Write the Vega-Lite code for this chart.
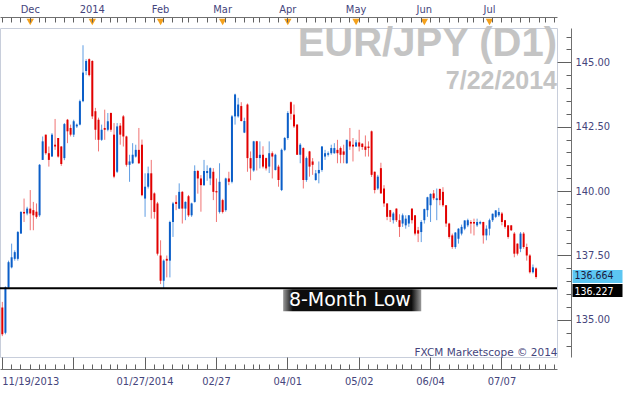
{
"$schema":"https://vega.github.io/schema/vega-lite/v6.json",
"width":557,"height":329,
"autosize":{"type":"none"},
"padding":{"left":0,"top":28,"right":67,"bottom":36},
"background":"#ffffff",
"config":{
 "view":{"stroke":"#c8cedb","strokeWidth":1},
 "axis":{"labelFont":"DejaVu Sans Condensed, DejaVu Sans","labelFontSize":11,"labelColor":"#45457c","tickColor":"#606060","domainColor":"#707070","grid":false,"labelOverlap":false,"labelBound":false}
},
"title":{"text":"EUR/JPY (D1)","subtitle":"7/22/2014","anchor":"end","frame":"group","orient":"top","offset":-91,"font":"Liberation Sans","fontSize":40,"fontWeight":"bold","color":"#c4c4c4","subtitleFont":"Liberation Sans","subtitleFontSize":25,"subtitleFontWeight":"bold","subtitleColor":"#c4c4c4","subtitlePadding":5},
"datasets":{
"candles":[
{"d":"2013-11-19","o":135.48,"h":135.7,"l":134.37,"c":134.44},
{"d":"2013-11-20","o":134.5,"h":136.3,"l":134.44,"c":136.26},
{"d":"2013-11-21","o":136.26,"h":137.3,"l":136.2,"c":137.24},
{"d":"2013-11-22","o":137.04,"h":137.96,"l":137.0,"c":137.43},
{"d":"2013-11-25","o":137.37,"h":137.7,"l":137.3,"c":137.63},
{"d":"2013-11-26","o":137.37,"h":138.45,"l":137.3,"c":138.41},
{"d":"2013-11-27","o":138.35,"h":139.22,"l":138.35,"c":139.19},
{"d":"2013-11-28","o":139.19,"h":139.71,"l":138.8,"c":139.13},
{"d":"2013-11-29","o":139.13,"h":139.39,"l":139.06,"c":139.32},
{"d":"2013-12-02","o":139.32,"h":140.04,"l":138.48,"c":139.13},
{"d":"2013-12-03","o":139.26,"h":139.58,"l":138.48,"c":139.06},
{"d":"2013-12-04","o":139.2,"h":139.52,"l":138.93,"c":139.0},
{"d":"2013-12-05","o":139.06,"h":141.05,"l":139.0,"c":141.02},
{"d":"2013-12-06","o":141.21,"h":142.12,"l":141.21,"c":141.93},
{"d":"2013-12-09","o":142.19,"h":142.19,"l":141.41,"c":141.47},
{"d":"2013-12-10","o":141.47,"h":141.73,"l":140.95,"c":141.21},
{"d":"2013-12-11","o":141.34,"h":142.25,"l":141.34,"c":142.19},
{"d":"2013-12-12","o":141.8,"h":142.8,"l":141.6,"c":141.73},
{"d":"2013-12-13","o":142.06,"h":142.06,"l":141.3,"c":141.34},
{"d":"2013-12-16","o":141.73,"h":141.75,"l":140.98,"c":141.05},
{"d":"2013-12-17","o":141.28,"h":142.64,"l":141.2,"c":142.6},
{"d":"2013-12-18","o":142.77,"h":142.8,"l":141.86,"c":142.32},
{"d":"2013-12-19","o":142.45,"h":142.58,"l":142.12,"c":142.19},
{"d":"2013-12-20","o":142.19,"h":142.77,"l":142.1,"c":142.71},
{"d":"2013-12-23","o":142.51,"h":142.62,"l":142.45,"c":142.58},
{"d":"2013-12-26","o":142.58,"h":143.55,"l":142.55,"c":143.49},
{"d":"2013-12-27","o":143.49,"h":145.66,"l":143.45,"c":144.6},
{"d":"2013-12-30","o":144.66,"h":145.12,"l":144.5,"c":145.05},
{"d":"2013-12-31","o":145.12,"h":145.15,"l":144.45,"c":144.5},
{"d":"2014-01-02","o":145.05,"h":145.08,"l":142.8,"c":142.9},
{"d":"2014-01-03","o":143.1,"h":143.23,"l":141.99,"c":142.38},
{"d":"2014-01-06","o":142.77,"h":142.85,"l":141.54,"c":141.99},
{"d":"2014-01-07","o":141.99,"h":142.58,"l":141.95,"c":142.38},
{"d":"2014-01-08","o":142.45,"h":143.16,"l":141.99,"c":142.38},
{"d":"2014-01-09","o":142.38,"h":143.03,"l":142.32,"c":142.71},
{"d":"2014-01-10","o":143.03,"h":143.05,"l":142.3,"c":142.38},
{"d":"2014-01-13","o":142.19,"h":142.64,"l":140.5,"c":140.56},
{"d":"2014-01-14","o":140.75,"h":142.64,"l":140.7,"c":142.51},
{"d":"2014-01-15","o":142.54,"h":142.64,"l":141.8,"c":142.19},
{"d":"2014-01-16","o":142.9,"h":142.95,"l":141.73,"c":142.12},
{"d":"2014-01-17","o":142.12,"h":142.15,"l":140.95,"c":141.02},
{"d":"2014-01-20","o":141.02,"h":141.41,"l":140.36,"c":141.15},
{"d":"2014-01-21","o":141.08,"h":141.86,"l":141.05,"c":141.41},
{"d":"2014-01-22","o":141.34,"h":141.8,"l":141.3,"c":141.6},
{"d":"2014-01-23","o":141.6,"h":142.45,"l":141.05,"c":141.08},
{"d":"2014-01-24","o":141.8,"h":142.0,"l":139.8,"c":139.84},
{"d":"2014-01-27","o":139.71,"h":140.69,"l":139.0,"c":140.17},
{"d":"2014-01-28","o":140.17,"h":140.95,"l":140.1,"c":140.69},
{"d":"2014-01-29","o":140.69,"h":141.21,"l":138.93,"c":139.65},
{"d":"2014-01-30","o":139.91,"h":139.95,"l":138.93,"c":139.19},
{"d":"2014-01-31","o":139.52,"h":139.58,"l":137.5,"c":137.57},
{"d":"2014-02-03","o":137.5,"h":138.09,"l":136.39,"c":136.52},
{"d":"2014-02-04","o":136.52,"h":137.35,"l":136.227,"c":137.3},
{"d":"2014-02-05","o":137.37,"h":137.5,"l":136.65,"c":137.3},
{"d":"2014-02-06","o":137.3,"h":138.85,"l":136.65,"c":138.8},
{"d":"2014-02-07","o":138.8,"h":139.58,"l":138.22,"c":139.52},
{"d":"2014-02-10","o":139.58,"h":139.84,"l":139.26,"c":139.5},
{"d":"2014-02-11","o":139.32,"h":140.3,"l":139.3,"c":139.97},
{"d":"2014-02-12","o":139.97,"h":140.0,"l":138.74,"c":139.32},
{"d":"2014-02-13","o":139.32,"h":139.6,"l":138.87,"c":139.58},
{"d":"2014-02-14","o":139.8,"h":139.85,"l":139.0,"c":139.06},
{"d":"2014-02-17","o":139.06,"h":139.55,"l":139.0,"c":139.52},
{"d":"2014-02-18","o":139.58,"h":141.0,"l":139.55,"c":140.78},
{"d":"2014-02-19","o":140.78,"h":140.82,"l":139.9,"c":140.49},
{"d":"2014-02-20","o":140.49,"h":140.62,"l":139.2,"c":140.23},
{"d":"2014-02-21","o":140.23,"h":141.21,"l":140.2,"c":140.78},
{"d":"2014-02-24","o":140.7,"h":141.0,"l":140.4,"c":140.78},
{"d":"2014-02-25","o":140.49,"h":140.92,"l":140.23,"c":140.89},
{"d":"2014-02-26","o":140.75,"h":140.89,"l":139.65,"c":139.97},
{"d":"2014-02-27","o":140.0,"h":140.49,"l":138.8,"c":139.95},
{"d":"2014-02-28","o":139.19,"h":141.08,"l":139.13,"c":140.36},
{"d":"2014-03-03","o":139.65,"h":139.7,"l":139.13,"c":139.19},
{"d":"2014-03-04","o":139.26,"h":140.52,"l":139.2,"c":140.49},
{"d":"2014-03-05","o":140.49,"h":140.75,"l":140.23,"c":140.36},
{"d":"2014-03-06","o":140.36,"h":142.95,"l":140.3,"c":142.9},
{"d":"2014-03-07","o":142.9,"h":143.78,"l":142.58,"c":143.75},
{"d":"2014-03-10","o":142.9,"h":143.62,"l":142.85,"c":143.36},
{"d":"2014-03-11","o":143.3,"h":143.45,"l":142.7,"c":142.72},
{"d":"2014-03-12","o":142.27,"h":142.85,"l":142.25,"c":142.72},
{"d":"2014-03-13","o":143.36,"h":143.4,"l":140.75,"c":141.28},
{"d":"2014-03-14","o":141.28,"h":141.54,"l":140.42,"c":140.88},
{"d":"2014-03-17","o":140.8,"h":141.95,"l":140.75,"c":141.93},
{"d":"2014-03-18","o":141.93,"h":141.95,"l":140.8,"c":141.28},
{"d":"2014-03-19","o":141.28,"h":141.93,"l":140.88,"c":141.41},
{"d":"2014-03-20","o":141.41,"h":141.74,"l":140.88,"c":140.95},
{"d":"2014-03-21","o":141.28,"h":141.3,"l":140.8,"c":140.88},
{"d":"2014-03-24","o":140.95,"h":141.93,"l":140.7,"c":141.47},
{"d":"2014-03-25","o":141.47,"h":141.54,"l":140.49,"c":141.34},
{"d":"2014-03-26","o":140.82,"h":141.45,"l":140.8,"c":141.41},
{"d":"2014-03-27","o":140.95,"h":141.02,"l":140.17,"c":140.43},
{"d":"2014-03-28","o":140.04,"h":141.65,"l":140.0,"c":141.6},
{"d":"2014-03-31","o":141.6,"h":142.1,"l":141.55,"c":142.06},
{"d":"2014-04-01","o":142.06,"h":143.1,"l":141.99,"c":143.03},
{"d":"2014-04-02","o":143.45,"h":143.48,"l":142.77,"c":143.0},
{"d":"2014-04-03","o":142.97,"h":143.36,"l":142.45,"c":142.51},
{"d":"2014-04-04","o":142.58,"h":142.6,"l":141.4,"c":141.41},
{"d":"2014-04-07","o":141.41,"h":141.86,"l":141.08,"c":141.8},
{"d":"2014-04-08","o":141.67,"h":141.7,"l":140.1,"c":140.43},
{"d":"2014-04-09","o":140.43,"h":141.34,"l":140.36,"c":141.28},
{"d":"2014-04-10","o":141.54,"h":141.56,"l":140.56,"c":140.95},
{"d":"2014-04-11","o":141.15,"h":141.28,"l":140.63,"c":141.02},
{"d":"2014-04-14","o":140.43,"h":140.82,"l":140.4,"c":140.69},
{"d":"2014-04-15","o":140.69,"h":141.15,"l":140.3,"c":140.82},
{"d":"2014-04-16","o":140.82,"h":141.75,"l":140.75,"c":141.73},
{"d":"2014-04-17","o":141.34,"h":141.6,"l":141.21,"c":141.47},
{"d":"2014-04-18","o":141.41,"h":141.54,"l":141.34,"c":141.47},
{"d":"2014-04-21","o":141.47,"h":141.8,"l":141.41,"c":141.67},
{"d":"2014-04-22","o":141.47,"h":141.86,"l":141.45,"c":141.67},
{"d":"2014-04-23","o":141.6,"h":141.99,"l":141.08,"c":141.47},
{"d":"2014-04-24","o":141.67,"h":141.73,"l":141.08,"c":141.41},
{"d":"2014-04-25","o":141.54,"h":141.8,"l":141.08,"c":141.41},
{"d":"2014-04-28","o":141.08,"h":141.99,"l":141.06,"c":141.99},
{"d":"2014-04-29","o":141.93,"h":142.45,"l":141.6,"c":141.73},
{"d":"2014-04-30","o":141.8,"h":142.06,"l":141.15,"c":141.73},
{"d":"2014-05-01","o":141.73,"h":141.99,"l":141.72,"c":141.89},
{"d":"2014-05-02","o":141.89,"h":142.38,"l":141.54,"c":141.73},
{"d":"2014-05-05","o":141.84,"h":141.86,"l":141.6,"c":141.71},
{"d":"2014-05-06","o":141.73,"h":142.16,"l":141.34,"c":141.6},
{"d":"2014-05-07","o":141.73,"h":141.93,"l":141.34,"c":141.67},
{"d":"2014-05-08","o":142.32,"h":142.35,"l":140.55,"c":140.63},
{"d":"2014-05-09","o":140.75,"h":140.76,"l":139.91,"c":140.04},
{"d":"2014-05-12","o":140.1,"h":140.63,"l":140.04,"c":140.56},
{"d":"2014-05-13","o":140.89,"h":141.1,"l":139.9,"c":139.91},
{"d":"2014-05-14","o":140.1,"h":140.23,"l":139.39,"c":139.52},
{"d":"2014-05-15","o":139.52,"h":139.53,"l":138.87,"c":139.0},
{"d":"2014-05-16","o":139.26,"h":139.27,"l":138.8,"c":139.0},
{"d":"2014-05-19","o":138.87,"h":139.19,"l":138.74,"c":139.13},
{"d":"2014-05-20","o":139.32,"h":139.33,"l":138.8,"c":138.87},
{"d":"2014-05-21","o":138.87,"h":139.1,"l":138.22,"c":138.61},
{"d":"2014-05-22","o":138.74,"h":139.13,"l":138.61,"c":139.06},
{"d":"2014-05-23","o":138.67,"h":139.06,"l":138.54,"c":138.93},
{"d":"2014-05-26","o":138.74,"h":139.07,"l":138.61,"c":139.06},
{"d":"2014-05-27","o":139.32,"h":139.33,"l":138.74,"c":138.87},
{"d":"2014-05-28","o":139.06,"h":139.07,"l":138.28,"c":138.35},
{"d":"2014-05-29","o":138.48,"h":138.61,"l":138.02,"c":138.35},
{"d":"2014-05-30","o":138.41,"h":138.87,"l":138.02,"c":138.8},
{"d":"2014-06-02","o":138.87,"h":139.32,"l":138.74,"c":139.3},
{"d":"2014-06-03","o":139.26,"h":139.78,"l":139.0,"c":139.76},
{"d":"2014-06-04","o":139.45,"h":139.91,"l":138.8,"c":139.89},
{"d":"2014-06-05","o":139.91,"h":140.04,"l":139.65,"c":139.72},
{"d":"2014-06-06","o":139.65,"h":140.1,"l":138.87,"c":139.72},
{"d":"2014-06-09","o":140.08,"h":140.1,"l":139.45,"c":139.65},
{"d":"2014-06-10","o":139.97,"h":140.15,"l":139.39,"c":139.45},
{"d":"2014-06-11","o":139.45,"h":139.46,"l":138.61,"c":138.74},
{"d":"2014-06-12","o":138.74,"h":138.77,"l":138.15,"c":138.22},
{"d":"2014-06-13","o":138.28,"h":138.35,"l":137.76,"c":137.83},
{"d":"2014-06-16","o":137.83,"h":138.41,"l":137.76,"c":138.39},
{"d":"2014-06-17","o":138.15,"h":138.56,"l":137.96,"c":138.54},
{"d":"2014-06-18","o":138.35,"h":138.7,"l":138.28,"c":138.61},
{"d":"2014-06-19","o":138.54,"h":138.87,"l":138.48,"c":138.86},
{"d":"2014-06-20","o":138.67,"h":138.93,"l":138.6,"c":138.87},
{"d":"2014-06-23","o":138.8,"h":138.87,"l":138.35,"c":138.74},
{"d":"2014-06-24","o":138.8,"h":138.93,"l":138.28,"c":138.74},
{"d":"2014-06-25","o":138.67,"h":138.93,"l":138.61,"c":138.8},
{"d":"2014-06-26","o":138.74,"h":138.85,"l":138.7,"c":138.8},
{"d":"2014-06-27","o":138.8,"h":138.81,"l":137.96,"c":138.28},
{"d":"2014-06-30","o":138.28,"h":138.67,"l":138.09,"c":138.54},
{"d":"2014-07-01","o":138.54,"h":138.93,"l":138.28,"c":138.87},
{"d":"2014-07-02","o":138.87,"h":139.13,"l":138.8,"c":139.12},
{"d":"2014-07-03","o":139.0,"h":139.26,"l":138.95,"c":139.25},
{"d":"2014-07-04","o":139.06,"h":139.35,"l":139.0,"c":139.19},
{"d":"2014-07-07","o":139.13,"h":139.19,"l":138.67,"c":138.8},
{"d":"2014-07-08","o":138.87,"h":138.88,"l":138.54,"c":138.61},
{"d":"2014-07-09","o":138.67,"h":138.68,"l":138.15,"c":138.22},
{"d":"2014-07-10","o":138.67,"h":138.68,"l":138.45,"c":138.48},
{"d":"2014-07-11","o":138.35,"h":138.41,"l":137.43,"c":137.57},
{"d":"2014-07-14","o":137.96,"h":137.97,"l":137.5,"c":137.57},
{"d":"2014-07-15","o":137.76,"h":138.41,"l":137.63,"c":138.35},
{"d":"2014-07-16","o":138.35,"h":138.41,"l":137.76,"c":137.83},
{"d":"2014-07-17","o":137.83,"h":137.96,"l":137.3,"c":137.5},
{"d":"2014-07-18","o":137.5,"h":137.55,"l":136.8,"c":136.85},
{"d":"2014-07-21","o":136.85,"h":137.15,"l":136.8,"c":137.04},
{"d":"2014-07-22","o":137.0,"h":137.04,"l":136.6,"c":136.664}
],
"low":[{"price":136.227,"label":"8-Month Low"}],
"months":[{"d":"2013-12-02"},{"d":"2014-01-02"},{"d":"2014-02-03"},{"d":"2014-03-03"},{"d":"2014-04-01"},{"d":"2014-05-01"},{"d":"2014-06-02"},{"d":"2014-07-01"}]
},
"layer":[
{"data":{"name":"candles"},
 "mark":{"type":"rule","strokeWidth":1},
 "encoding":{
  "x":{"field":"d","type":"ordinal","scale":{"type":"band","domain":{"unionWith":["2014-07-23","2014-07-24","2014-07-25","2014-07-28","2014-07-29","2014-07-30"]},"paddingInner":0,"paddingOuter":0.25},
   "axis":{"orient":"bottom","title":null,"values":["2013-11-19","2013-12-20","2014-01-27","2014-02-27","2014-04-01","2014-05-02","2014-06-04","2014-07-07"],"offset":0,"tickSize":12,"domain":false,"labelPadding":6,"labelAngle":0,
    "labelExpr":"datum.value=='2013-12-20' ? '' : substring(datum.value,5,7)+'/'+substring(datum.value,8,10)+(datum.value<'2014-02-01' ? '/'+substring(datum.value,0,4) : '')",
    "labelAlign":{"condition":{"test":"datum.value=='2013-11-19'","value":"left"},"value":"center"}}},
  "y":{"field":"l","type":"quantitative","scale":{"domain":[133.56,146.33],"nice":false,"zero":false},
   "axis":{"orient":"right","title":null,"values":[135,137.5,140,142.5,145],"format":".2f","offset":0,"tickSize":14,"domain":false,"labelPadding":4}},
  "y2":{"field":"h"},
  "color":{"condition":{"test":"datum.c >= datum.o","value":"#5f9de3"},"value":"#f07373"}
 }},
{"data":{"name":"candles"},
 "mark":{"type":"bar","size":2},
 "encoding":{
  "x":{"field":"d","type":"ordinal",
   "axis":{"orient":"bottom","title":"FXCM Marketscope © 2014","values":["2013-11-19","2013-11-22","2013-11-27","2013-12-02","2013-12-05","2013-12-09","2013-12-12","2013-12-17","2013-12-20","2013-12-27","2014-01-02","2014-01-07","2014-01-10","2014-01-14","2014-01-17","2014-01-22","2014-01-27","2014-01-30","2014-02-04","2014-02-07","2014-02-12","2014-02-14","2014-02-19","2014-02-24","2014-02-27","2014-03-04","2014-03-07","2014-03-12","2014-03-17","2014-03-19","2014-03-24","2014-03-27","2014-04-01","2014-04-04","2014-04-09","2014-04-14","2014-04-17","2014-04-21","2014-04-24","2014-04-29","2014-05-02","2014-05-07","2014-05-12","2014-05-15","2014-05-20","2014-05-22","2014-05-27","2014-05-30","2014-06-04","2014-06-09","2014-06-12","2014-06-17","2014-06-20","2014-06-24","2014-06-27","2014-07-02","2014-07-07","2014-07-10","2014-07-15","2014-07-18","2014-07-23","2014-07-25","2014-07-30"],
    "offset":12,"tickSize":-5,"labels":false,"domain":true,"titleAnchor":"end","titleAlign":"right","titleBaseline":"alphabetic","titleY":-14,"titleFont":"DejaVu Sans","titleFontSize":10.5,"titleFontWeight":"normal","titleColor":"#45457c"}},
  "y":{"field":"o","type":"quantitative",
   "axis":{"orient":"right","title":null,"values":[134,134.5,135,135.5,136,136.5,137,137.5,138,138.5,139,139.5,140,140.5,141,141.5,142,142.5,143,143.5,144,144.5,145,145.5,146],"offset":14,"tickSize":-5,"labels":false,"domain":true}},
  "y2":{"field":"c"},
  "color":{"condition":{"test":"datum.c >= datum.o","value":"#0b5ec8"},"value":"#e10000"}
 }},
{"data":{"name":"low"},
 "mark":{"type":"rule","strokeWidth":2,"color":"#000000"},
 "encoding":{
  "y":{"field":"price","type":"quantitative",
   "axis":{"orient":"right","title":null,"values":[136.664],"format":".3f","offset":15,"tickSize":50,"tickWidth":13,"tickOffset":-1,"labelOffset":-1,"tickColor":"#5cc6f2","domain":false,"labelColor":"#1a1a40","labelFontSize":10.5,"labelPadding":-48,"labelAlign":"left","labelBaseline":"middle"}}
 }},
{"data":{"name":"low"},
 "mark":{"type":"rect","fill":{"gradient":"linear","x1":0,"y1":0,"x2":1,"y2":0,"stops":[{"offset":0,"color":"#9a9a9a"},{"offset":0.07,"color":"#0d0d0d"},{"offset":0.93,"color":"#0d0d0d"},{"offset":1,"color":"#9a9a9a"}]}},
 "encoding":{
  "x":{"datum":"2014-03-31","type":"ordinal","bandPosition":0,
   "axis":{"orient":"top","title":null,"values":["2013-11-19","2013-11-22","2013-11-27","2013-12-02","2013-12-05","2013-12-09","2013-12-12","2013-12-17","2013-12-20","2013-12-27","2014-01-02","2014-01-07","2014-01-10","2014-01-14","2014-01-17","2014-01-22","2014-01-27","2014-01-30","2014-02-04","2014-02-07","2014-02-12","2014-02-14","2014-02-19","2014-02-24","2014-02-27","2014-03-04","2014-03-07","2014-03-12","2014-03-17","2014-03-19","2014-03-24","2014-03-27","2014-04-01","2014-04-04","2014-04-09","2014-04-14","2014-04-17","2014-04-21","2014-04-24","2014-04-29","2014-05-02","2014-05-07","2014-05-12","2014-05-15","2014-05-20","2014-05-22","2014-05-27","2014-05-30","2014-06-04","2014-06-09","2014-06-12","2014-06-17","2014-06-20","2014-06-24","2014-06-27","2014-07-02","2014-07-07","2014-07-10","2014-07-15","2014-07-18","2014-07-23","2014-07-25","2014-07-30"],
    "offset":11,"tickSize":-5,"labels":false,"domain":true}},
  "x2":{"datum":"2014-05-30"},
  "y":{"datum":136.19,"type":"quantitative","axis":null},
  "y2":{"datum":135.34}
 }},
{"data":{"name":"low"},
 "mark":{"type":"text","color":"#ffffff","font":"DejaVu Sans","fontSize":19,"align":"center","baseline":"middle"},
 "encoding":{
  "x":{"datum":"2014-04-29","type":"ordinal","axis":null},
  "y":{"datum":135.78,"type":"quantitative",
   "axis":{"orient":"right","title":null,"values":[136.227],"format":".3f","offset":15,"tickSize":50,"tickWidth":13,"tickOffset":1.5,"labelOffset":1.5,"tickColor":"#000000","domain":false,"labelColor":"#ffffff","labelFontSize":10.5,"labelPadding":-48,"labelAlign":"left","labelBaseline":"middle"}},
  "text":{"field":"label"}
 }},
{"data":{"name":"months"},
 "mark":{"type":"point","shape":"triangle-down","filled":true,"color":"#f4a11d","size":55,"opacity":1},
 "encoding":{
  "x":{"field":"d","type":"ordinal",
   "axis":{"orient":"top","title":null,"values":["2013-12-02","2014-01-02","2014-02-03","2014-03-03","2014-04-01","2014-05-01","2014-06-02","2014-07-01"],"offset":11,"ticks":false,"domain":false,"labelPadding":3,"labelAngle":0,
    "labelExpr":"substring(datum.value,5,7)=='01' ? substring(datum.value,0,4) : ['Jan','Feb','Mar','Apr','May','Jun','Jul','Aug','Sep','Oct','Nov','Dec'][toNumber(substring(datum.value,5,7))-1]"}},
  "y":{"datum":146.56,"type":"quantitative","axis":null}
 }}
],
"resolve":{"axis":{"x":"independent","y":"independent"}}
}
